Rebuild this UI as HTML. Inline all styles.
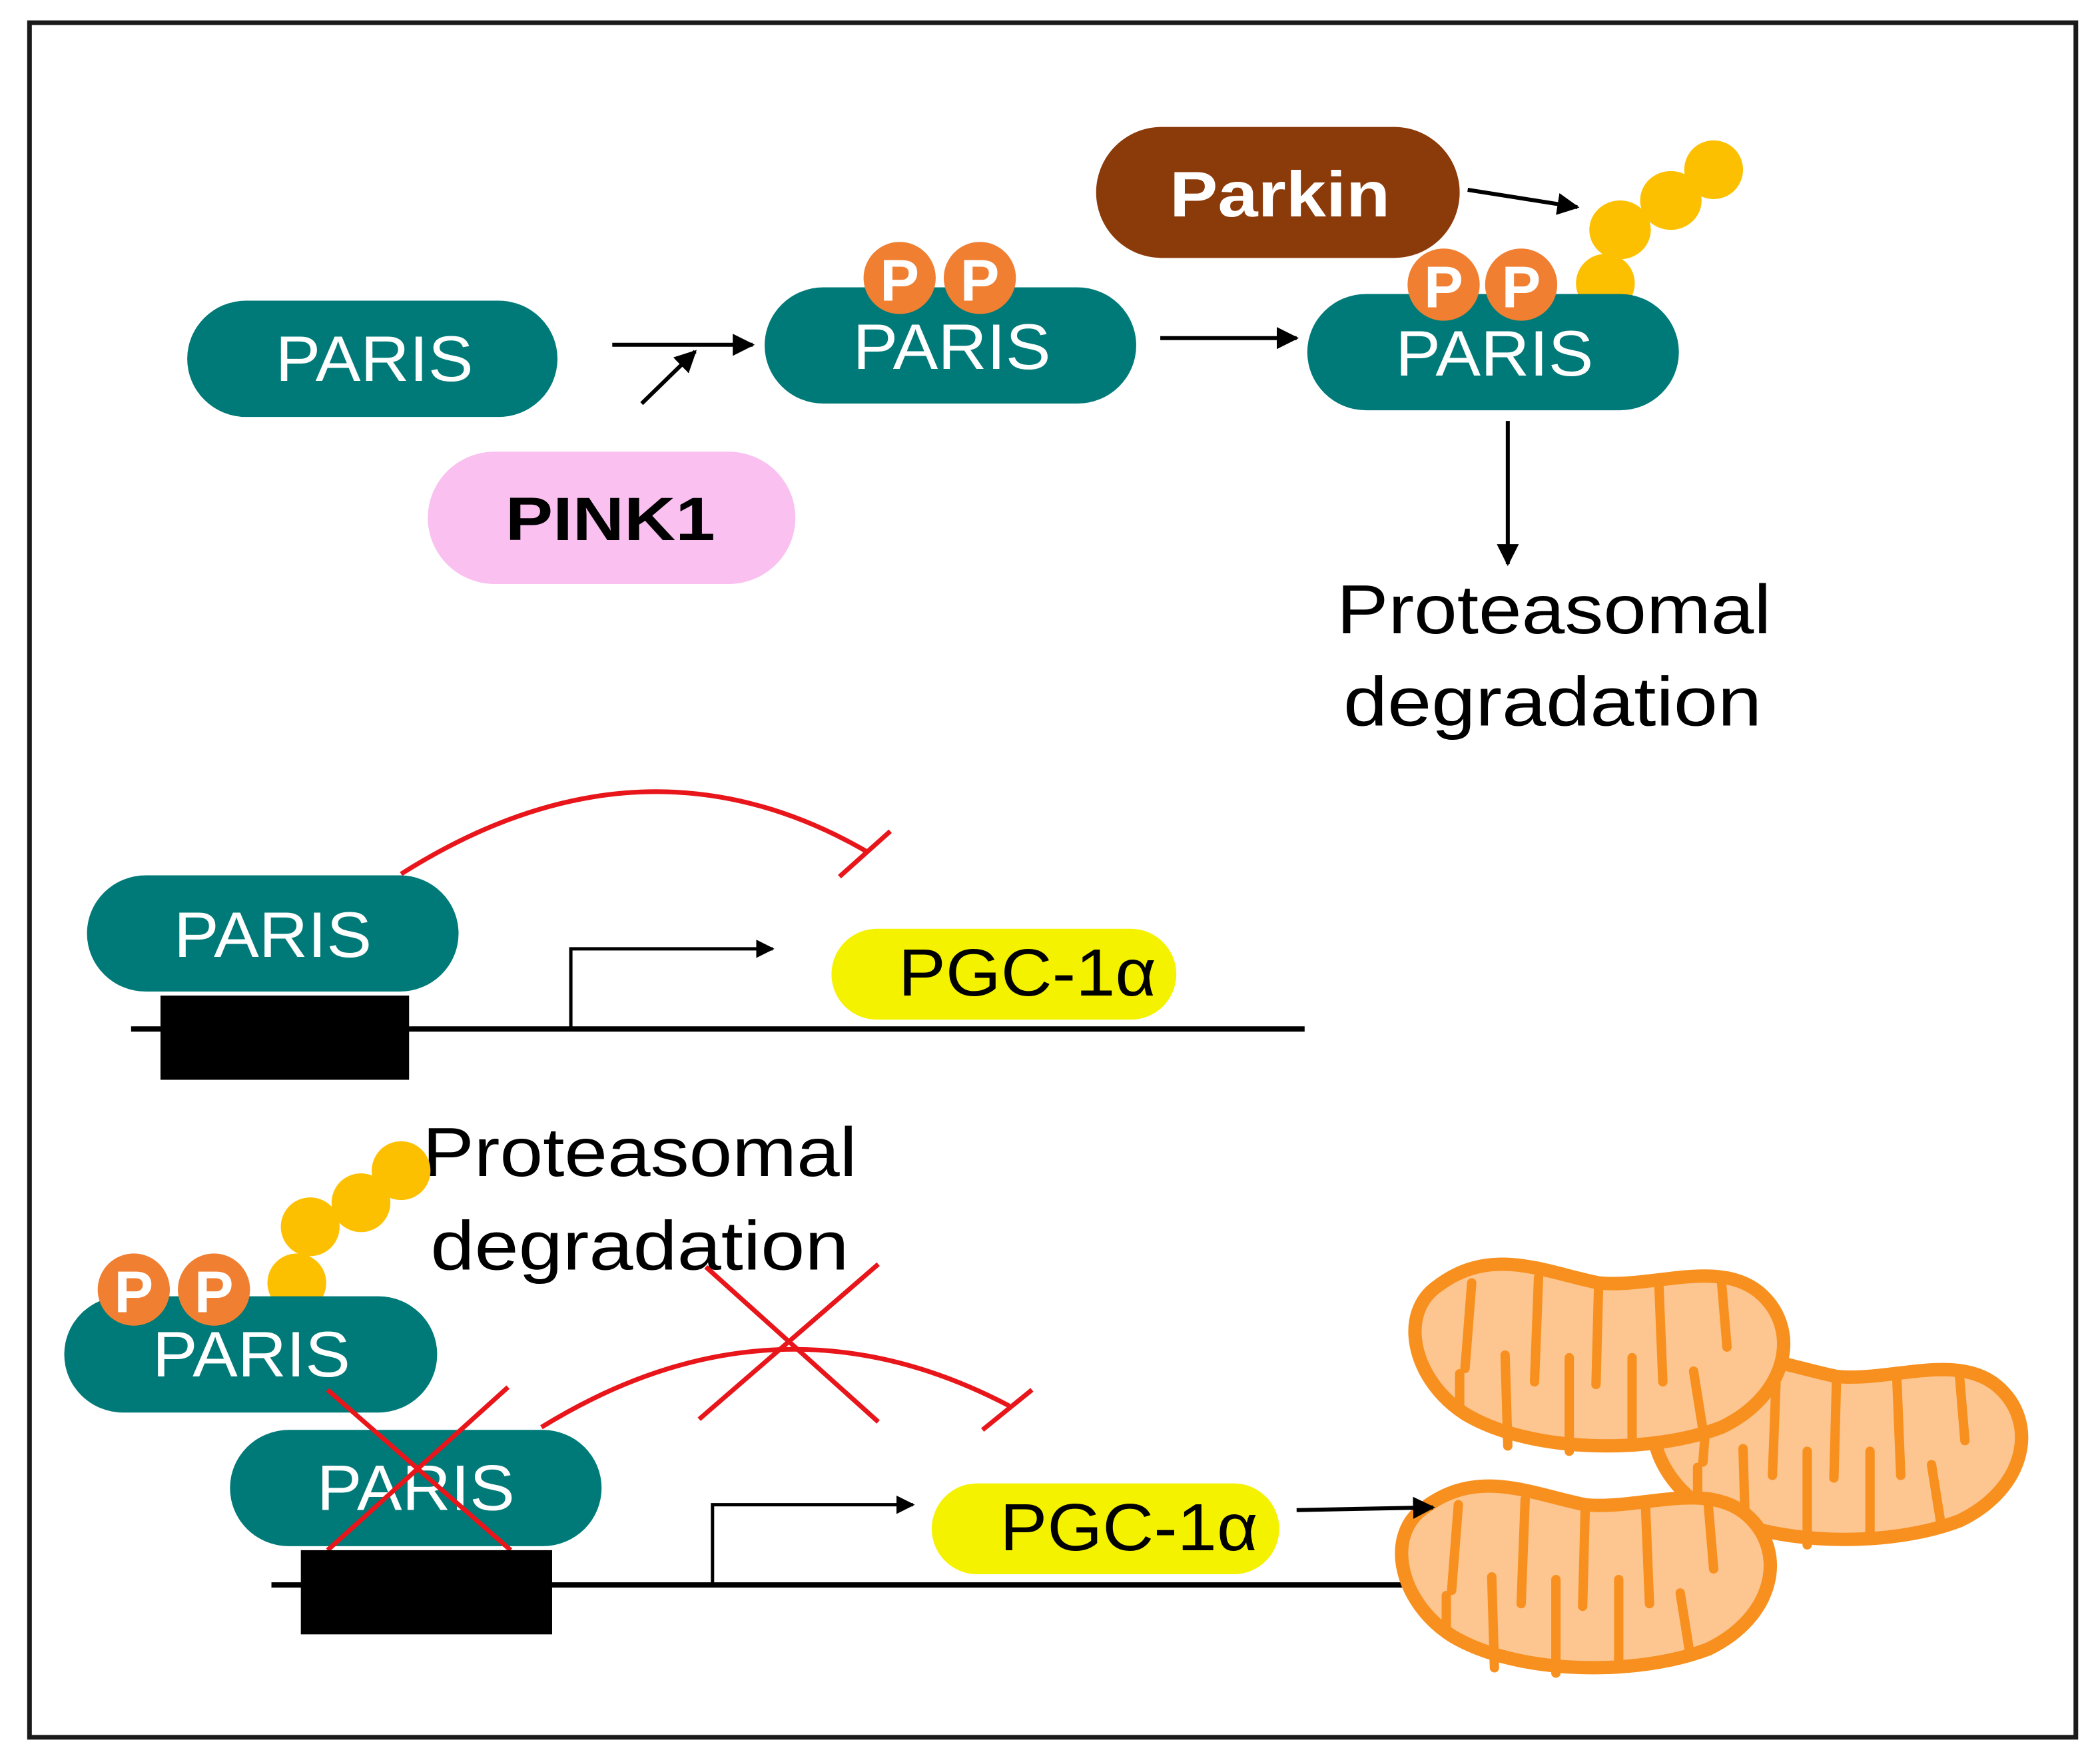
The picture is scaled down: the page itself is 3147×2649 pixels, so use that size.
<!DOCTYPE html>
<html><head><meta charset="utf-8"><style>
html,body{margin:0;padding:0;background:#fff;}
svg{display:block;}
text{font-family:"Liberation Sans",sans-serif;}
</style></head><body>
<svg width="3147" height="2649" viewBox="0 0 1568 1320" xmlns="http://www.w3.org/2000/svg">
<defs>
<marker id="ah" viewBox="0 0 10 10" refX="9" refY="5" markerWidth="5.5" markerHeight="5.5" orient="auto" markerUnits="strokeWidth">
<path d="M0,0 L10,5 L0,10 Z" fill="#000"/></marker>
<g id="mito">
<path d="M20,20 C60,-10 100,10 140,18 C180,22 230,0 260,25 C292,52 282,102 232,126 C180,146 90,146 40,116 C0,90 -10,40 20,20 Z" fill="#fdc590" stroke="#f7901e" stroke-width="10"/>
<g stroke="#f7901e" stroke-width="7" stroke-linecap="round" fill="none">
<path d="M45,18 L40,82"/><path d="M95,14 L92,92"/><path d="M140,18 L138,94"/><path d="M185,18 L188,92"/><path d="M232,18 L236,66"/>
<path d="M36,112 L36,86"/><path d="M72,140 L70,72"/><path d="M118,144 L118,74"/><path d="M165,140 L165,74"/><path d="M218,128 L211,84"/>
</g>
</g>
</defs>
<rect x="22" y="17" width="1531" height="1283" fill="#fff" stroke="#1a1a1a" stroke-width="3.5"/>

<!-- Top row -->
<rect x="140" y="225" width="277" height="87" rx="44" fill="#007a78"/>
<text x="206" y="285" font-size="48" fill="#fff" textLength="148" lengthAdjust="spacingAndGlyphs">PARIS</text>
<line x1="458" y1="258" x2="563" y2="258" stroke="#000" stroke-width="3" marker-end="url(#ah)"/>
<line x1="480" y1="302" x2="520" y2="263" stroke="#000" stroke-width="3" marker-end="url(#ah)"/>
<rect x="320" y="338" width="275" height="99" rx="50" fill="#f9c0f0"/>
<text x="378" y="404" font-size="46" font-weight="bold" fill="#000" textLength="157" lengthAdjust="spacingAndGlyphs">PINK1</text>

<rect x="572" y="215" width="278" height="87" rx="44" fill="#007a78"/>
<circle cx="673" cy="208" r="27" fill="#f07f32"/><circle cx="733" cy="208" r="27" fill="#f07f32"/>
<text x="673" y="225" font-size="44" font-weight="bold" fill="#fff" text-anchor="middle">P</text>
<text x="733" y="225" font-size="44" font-weight="bold" fill="#fff" text-anchor="middle">P</text>
<text x="638" y="276" font-size="48" fill="#fff" textLength="148" lengthAdjust="spacingAndGlyphs">PARIS</text>
<line x1="868" y1="253" x2="970" y2="253" stroke="#000" stroke-width="3" marker-end="url(#ah)"/>

<rect x="820" y="95" width="272" height="98" rx="49" fill="#8b3a0a"/>
<text x="875" y="162" font-size="48" font-weight="bold" fill="#fff" textLength="165" lengthAdjust="spacingAndGlyphs">Parkin</text>
<line x1="1098" y1="142" x2="1180" y2="155" stroke="#000" stroke-width="3" marker-end="url(#ah)"/>

<g fill="#fcc000">
<ellipse cx="1201" cy="212" rx="22" ry="22"/><ellipse cx="1212" cy="172" rx="23" ry="22"/>
<ellipse cx="1250" cy="150" rx="23" ry="22"/><ellipse cx="1282" cy="127" rx="22" ry="22"/>
</g>
<rect x="978" y="220" width="278" height="87" rx="44" fill="#007a78"/>
<circle cx="1080" cy="213" r="27" fill="#f07f32"/><circle cx="1138" cy="213" r="27" fill="#f07f32"/>
<text x="1080" y="230" font-size="44" font-weight="bold" fill="#fff" text-anchor="middle">P</text>
<text x="1138" y="230" font-size="44" font-weight="bold" fill="#fff" text-anchor="middle">P</text>
<text x="1044" y="281" font-size="48" fill="#fff" textLength="148" lengthAdjust="spacingAndGlyphs">PARIS</text>
<line x1="1128" y1="315" x2="1128" y2="422" stroke="#000" stroke-width="3" marker-end="url(#ah)"/>
<text x="1000" y="474" font-size="52" fill="#000" textLength="325" lengthAdjust="spacingAndGlyphs">Proteasomal</text>
<text x="1005" y="543" font-size="52" fill="#000" textLength="313" lengthAdjust="spacingAndGlyphs">degradation</text>

<!-- Middle -->
<path d="M300,654 Q480,540 648,637" fill="none" stroke="#e8161b" stroke-width="3.5"/>
<line x1="628" y1="656" x2="666" y2="622" stroke="#e8161b" stroke-width="3.5"/>
<rect x="65" y="655" width="278" height="87" rx="44" fill="#007a78"/>
<text x="130" y="716" font-size="48" fill="#fff" textLength="148" lengthAdjust="spacingAndGlyphs">PARIS</text>
<line x1="98" y1="770" x2="976" y2="770" stroke="#000" stroke-width="4"/>
<rect x="120" y="745" width="186" height="63" fill="#000"/>
<polyline points="427,770 427,710 578,710" fill="none" stroke="#000" stroke-width="2.5" marker-end="url(#ah)"/>
<rect x="622" y="695" width="258" height="68" rx="34" fill="#f5f200"/>
<text x="672" y="745" font-size="50" fill="#000" textLength="193" lengthAdjust="spacingAndGlyphs">PGC-1α</text>

<!-- Bottom -->
<text x="316" y="880" font-size="52" fill="#000" textLength="325" lengthAdjust="spacingAndGlyphs">Proteasomal</text>
<text x="322" y="950" font-size="52" fill="#000" textLength="313" lengthAdjust="spacingAndGlyphs">degradation</text>
<g fill="#fcc000">
<ellipse cx="222" cy="960" rx="22" ry="22"/><ellipse cx="232" cy="918" rx="22" ry="22"/>
<ellipse cx="270" cy="900" rx="22" ry="22"/><ellipse cx="300" cy="876" rx="22" ry="22"/>
</g>
<rect x="48" y="970" width="279" height="87" rx="44" fill="#007a78"/>
<circle cx="100" cy="965" r="27" fill="#f07f32"/><circle cx="160" cy="965" r="27" fill="#f07f32"/>
<text x="100" y="982" font-size="44" font-weight="bold" fill="#fff" text-anchor="middle">P</text>
<text x="160" y="982" font-size="44" font-weight="bold" fill="#fff" text-anchor="middle">P</text>
<text x="114" y="1030" font-size="48" fill="#fff" textLength="148" lengthAdjust="spacingAndGlyphs">PARIS</text>

<path d="M405,1068 Q580,960 755,1052" fill="none" stroke="#e8161b" stroke-width="3.5"/>
<line x1="735" y1="1070" x2="772" y2="1040" stroke="#e8161b" stroke-width="3.5"/>
<line x1="528" y1="948" x2="657" y2="1064" stroke="#e8161b" stroke-width="3.5"/>
<line x1="657" y1="946" x2="523" y2="1062" stroke="#e8161b" stroke-width="3.5"/>

<rect x="172" y="1070" width="278" height="87" rx="44" fill="#007a78"/>
<text x="237" y="1130" font-size="48" fill="#fff" textLength="148" lengthAdjust="spacingAndGlyphs">PARIS</text>
<line x1="245" y1="1160" x2="380" y2="1038" stroke="#e8161b" stroke-width="3.5"/>
<line x1="245" y1="1040" x2="382" y2="1160" stroke="#e8161b" stroke-width="3.5"/>
<line x1="203" y1="1186" x2="1050" y2="1186" stroke="#000" stroke-width="4"/>
<rect x="225" y="1160" width="188" height="63" fill="#000"/>
<polyline points="533,1186 533,1126 683,1126" fill="none" stroke="#000" stroke-width="2.5" marker-end="url(#ah)"/>
<rect x="697" y="1110" width="260" height="68" rx="34" fill="#f5f200"/>
<text x="748" y="1160" font-size="50" fill="#000" textLength="193" lengthAdjust="spacingAndGlyphs">PGC-1α</text>

<use href="#mito" transform="translate(1234,1012)"/>
<use href="#mito" transform="translate(1056,942)"/>
<use href="#mito" transform="translate(1046,1108)"/>
<line x1="970" y1="1130" x2="1072" y2="1128" stroke="#000" stroke-width="3" marker-end="url(#ah)"/>
</svg>
</body></html>
